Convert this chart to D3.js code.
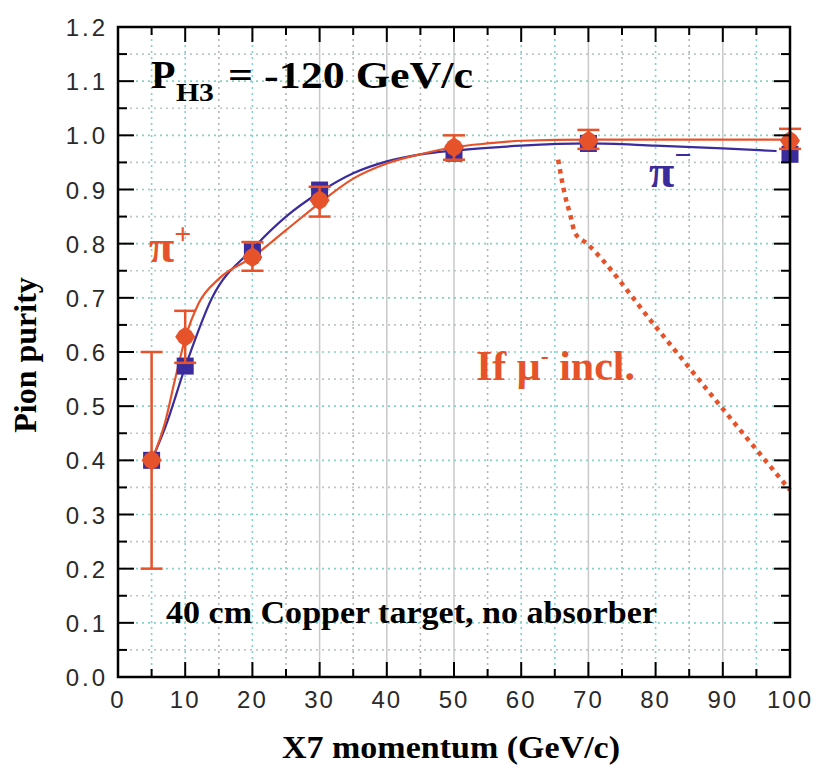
<!DOCTYPE html>
<html>
<head>
<meta charset="utf-8">
<script src="https://cdn.jsdelivr.net/npm/d3@7"></script>
<style>
  html, body { margin: 0; padding: 0; background: #fff; }
  svg { display: block; }
</style>
</head>
<body>
<svg id="chart" width="821" height="769"></svg>
<script>
// ---------- data ----------
const momentum   = [5, 10, 20, 30, 50, 70, 100];
const piPlus     = [0.40, 0.628, 0.775, 0.880, 0.978, 0.990, 0.990];
const piPlusLo   = [0.20, 0.580, 0.750, 0.850, 0.955, 0.975, 0.975];
const piPlusHi   = [0.60, 0.676, 0.803, 0.905, 1.000, 1.010, 1.012];
const piMinus    = [0.40, 0.574, 0.785, 0.899, 0.967, 0.985, 0.965];

// smooth fit curves
const fitPlusX   = [5, 7, 8.5, 10, 12, 15, 20, 25, 30, 35, 40, 45, 50, 55, 60, 70, 100];
const fitPlusY   = [0.40, 0.47, 0.55, 0.625, 0.69, 0.735, 0.775, 0.825, 0.875, 0.92, 0.948, 0.965, 0.978, 0.985, 0.99, 0.992, 0.992];
const fitMinusX  = [5, 7, 10, 14, 20, 25, 30, 35, 40, 45, 50, 55, 60, 70, 80, 90, 98];
const fitMinusY  = [0.40, 0.46, 0.572, 0.70, 0.79, 0.85, 0.895, 0.93, 0.952, 0.965, 0.972, 0.977, 0.981, 0.985, 0.981, 0.976, 0.971];
// "If mu- incl." dotted curve
const muX        = [65.5, 66.5, 67.3, 68, 69.8, 80, 90, 100];
const muY        = [0.955, 0.89, 0.853, 0.82, 0.80, 0.647, 0.495, 0.345];

const xTickLabels = ["0", "10", "20", "30", "40", "50", "60", "70", "80", "90", "100"];
const yTickLabels = ["0.0","0.1","0.2","0.3","0.4","0.5","0.6","0.7","0.8","0.9","1.0","1.1","1.2"];

// ---------- layout ----------
const L = 118, R = 790, T = 27, B = 677;
const RED = "#e6532a", BLUE = "#3a2c9c";
const svg = d3.select("#chart");
const x = d3.scaleLinear().domain([0, 100]).range([L, R]);
const y = d3.scaleLinear().domain([0, 1.2]).range([B, T]);

// ---------- grid ----------
const grid = svg.append("g");
const vStyle = {5:"c",10:"c",15:"g",20:"c",25:"g",30:"s",35:"g",40:"s",45:"g",50:"s",55:"g",60:"c",65:"c",70:"s",75:"g",80:"c",85:"g",90:"s",95:"c"};
d3.range(5, 100, 5).forEach(v => {
  const st = vStyle[v];
  grid.append("line")
    .attr("x1", x(v)).attr("x2", x(v)).attr("y1", T).attr("y2", B)
    .attr("stroke", st === "s" ? "#c9c9c9" : st === "c" ? "#7fd3d6" : "#b4b4b4")
    .attr("stroke-width", st === "s" ? 1.5 : 1.6)
    .attr("stroke-dasharray", st === "s" ? null : "2,4");
});
d3.range(1, 24).forEach(i => {
  const v = i * 0.05;
  const major = i % 2 === 0;
  grid.append("line")
    .attr("x1", L).attr("x2", R).attr("y1", y(v)).attr("y2", y(v))
    .attr("stroke", major ? "#86d2c4" : "#b9c8c8")
    .attr("stroke-width", 1.6)
    .attr("stroke-dasharray", "2,4");
});

// ---------- curves ----------
const line = d3.line().x(d => x(d[0])).y(d => y(d[1])).curve(d3.curveMonotoneX);
svg.append("path").datum(d3.zip(fitMinusX, fitMinusY))
  .attr("d", line).attr("fill", "none").attr("stroke", BLUE).attr("stroke-width", 2.2);
svg.append("path").datum(d3.zip(fitPlusX, fitPlusY))
  .attr("d", line).attr("fill", "none").attr("stroke", RED).attr("stroke-width", 2.2);
svg.append("path").datum(d3.zip(muX, muY))
  .attr("d", line).attr("fill", "none").attr("stroke", RED).attr("stroke-width", 4.5)
  .attr("stroke-dasharray", "4.5,5");

// ---------- markers ----------
const sq = 17;
svg.append("g").selectAll("rect").data(d3.zip(momentum, piMinus)).join("rect")
  .attr("x", d => x(d[0]) - sq / 2).attr("y", d => y(d[1]) - sq / 2)
  .attr("width", sq).attr("height", sq).attr("fill", BLUE);

const eb = svg.append("g").attr("stroke", RED).attr("stroke-width", 2.5);
momentum.forEach((m, i) => {
  eb.append("line").attr("x1", x(m)).attr("x2", x(m)).attr("y1", y(piPlusLo[i])).attr("y2", y(piPlusHi[i]));
  eb.append("line").attr("x1", x(m) - 11).attr("x2", x(m) + 11).attr("y1", y(piPlusLo[i])).attr("y2", y(piPlusLo[i]));
  eb.append("line").attr("x1", x(m) - 11).attr("x2", x(m) + 11).attr("y1", y(piPlusHi[i])).attr("y2", y(piPlusHi[i]));
});
svg.append("g").selectAll("path").data(d3.zip(momentum, piPlus)).join("path")
  .attr("transform", d => `translate(${x(d[0])},${y(d[1])})`)
  .attr("d", "M0,-10 L6,-6 L10,0 L6,6 L0,10 L-6,6 L-10,0 L-6,-6 Z")
  .attr("fill", RED);

// ---------- frame & ticks ----------
svg.append("rect").attr("x", L).attr("y", T).attr("width", R - L).attr("height", B - T)
  .attr("fill", "none").attr("stroke", "#000").attr("stroke-width", 2.5);
const tk = svg.append("g").attr("stroke", "#000").attr("stroke-width", 2);
d3.range(1, 24).forEach(i => {
  const len = i % 2 === 0 ? 16 : 9, yy = y(i * 0.05);
  tk.append("line").attr("x1", L).attr("x2", L + len).attr("y1", yy).attr("y2", yy);
  tk.append("line").attr("x1", R).attr("x2", R - len).attr("y1", yy).attr("y2", yy);
});
d3.range(1, 20).forEach(i => {
  const len = i % 2 === 0 ? 15 : 8, xx = x(i * 5);
  tk.append("line").attr("x1", xx).attr("x2", xx).attr("y1", B).attr("y2", B - len);
  tk.append("line").attr("x1", xx).attr("x2", xx).attr("y1", T).attr("y2", T + len);
});

// ---------- tick labels ----------
const tickFont = "'Liberation Sans', Arial, sans-serif";
svg.append("g").selectAll("text").data(yTickLabels).join("text")
  .attr("x", 108).attr("y", (d, i) => y(i * 0.1) + 9)
  .attr("text-anchor", "end").attr("font-family", tickFont).attr("font-size", 24)
  .attr("letter-spacing", "3px").attr("fill", "#2a2a2a").text(d => d);
svg.append("g").selectAll("text").data(xTickLabels).join("text")
  .attr("x", (d, i) => x(i * 10)).attr("y", 708)
  .attr("text-anchor", "middle").attr("font-family", tickFont).attr("font-size", 24)
  .attr("letter-spacing", "2px").attr("fill", "#2a2a2a").text(d => d);

// ---------- labels ----------
const serif = "'Liberation Serif', 'Times New Roman', serif";
svg.append("text").attr("x", 282).attr("y", 758).attr("font-family", serif)
  .attr("font-weight", "bold").attr("font-size", 32).attr("textLength", 338)
  .attr("lengthAdjust", "spacingAndGlyphs").text("X7 momentum (GeV/c)");
svg.append("text").attr("transform", "translate(36,355) rotate(-90)").attr("text-anchor", "middle")
  .attr("font-family", serif).attr("font-weight", "bold").attr("font-size", 32)
  .text("Pion purity");

svg.append("text").attr("x", 151).attr("y", 88).attr("font-family", serif)
  .attr("font-weight", "bold").attr("font-size", 40).text("P");
svg.append("text").attr("x", 176).attr("y", 101).attr("font-family", serif)
  .attr("font-weight", "bold").attr("font-size", 26).attr("textLength", 38)
  .attr("lengthAdjust", "spacingAndGlyphs").text("H3");
svg.append("text").attr("x", 228).attr("y", 88).attr("font-family", serif)
  .attr("font-weight", "bold").attr("font-size", 38).attr("textLength", 245)
  .attr("lengthAdjust", "spacingAndGlyphs").text("= -120 GeV/c");

svg.append("text").attr("x", 166).attr("y", 623).attr("font-family", serif)
  .attr("font-weight", "bold").attr("font-size", 31).attr("textLength", 491)
  .attr("lengthAdjust", "spacingAndGlyphs").text("40 cm Copper target, no absorber");

const ifT = svg.append("text").attr("x", 476).attr("y", 380).attr("font-family", serif)
  .attr("font-weight", "bold").attr("font-size", 42).attr("fill", RED);
ifT.append("tspan").text("If μ");
ifT.append("tspan").attr("dy", -16).attr("font-size", 24).text("-");
ifT.append("tspan").attr("dy", 16).text(" incl.");

const pp = svg.append("text").attr("x", 149).attr("y", 262).attr("font-family", serif)
  .attr("font-weight", "bold").attr("font-size", 46).attr("fill", RED);
pp.append("tspan").text("π");
pp.append("tspan").attr("dy", -18).attr("font-size", 30).text("+");

const pm = svg.append("text").attr("x", 649).attr("y", 187).attr("font-family", serif)
  .attr("font-weight", "bold").attr("font-size", 46).attr("fill", BLUE);
pm.append("tspan").text("π");
pm.append("tspan").attr("dy", -22).attr("font-size", 30).text("−");
</script>
</body>
</html>
